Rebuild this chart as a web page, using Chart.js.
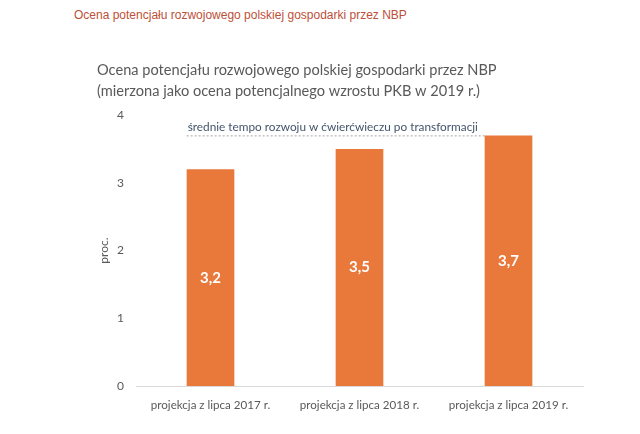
<!DOCTYPE html>
<html>
<head>
<meta charset="utf-8">
<script src="https://cdn.jsdelivr.net/npm/chart.js@4/dist/chart.umd.min.js"></script>
<style>
  html, body { margin: 0; padding: 0; background: #fff; }
  #wrap { position: relative; width: 640px; height: 434px; }
  #header {
    position: absolute; left: 74px; top: 8px;
    font-family: "Liberation Sans", Arial, sans-serif; font-size: 12px;
    color: #bd4f38;
  }
  canvas { position: absolute; left: 0; top: 0; }
</style>
</head>
<body>
<div id="wrap">
  <div id="header">Ocena potencjału rozwojowego polskiej gospodarki przez NBP</div>
  <canvas id="chart" width="640" height="434"></canvas>
</div>
<script>
const categories = ["projekcja z lipca 2017 r.", "projekcja z lipca 2018 r.", "projekcja z lipca 2019 r."];
const growth = [3.2, 3.5, 3.7];
const avgGrowth = 3.7;
const avgLabel = "średnie tempo rozwoju w ćwierćwieczu po transformacji";
const titleLines = [
  "Ocena potencjału rozwojowego polskiej gospodarki przez NBP",
  "(mierzona jako ocena potencjalnego wzrostu PKB w 2019 r.)"
];

const font = "Lato";

// dotted reference line + its caption, drawn under the bars
const avgLinePlugin = {
  id: "avgLine",
  beforeDatasetsDraw(chart) {
    const ctx = chart.ctx;
    const bars = chart.getDatasetMeta(0).data;
    const y = chart.scales.y.getPixelForValue(avgGrowth);
    const x0 = bars[0].x - bars[0].width / 2;
    const x1 = bars[2].x - bars[2].width / 2;
    ctx.save();
    ctx.strokeStyle = "#a6a6a6";
    ctx.lineWidth = 1;
    ctx.setLineDash([2, 2]);
    ctx.beginPath();
    ctx.moveTo(x0, y + 0.5);
    ctx.lineTo(x1, y + 0.5);
    ctx.stroke();
    ctx.setLineDash([]);
    ctx.fillStyle = "#44546a";
    ctx.font = "11.8px " + font;
    ctx.textAlign = "left";
    ctx.textBaseline = "bottom";
    ctx.fillText(avgLabel, x0 + 1, y - 2);
    ctx.restore();
  }
};

// values written inside the bars
const barLabelPlugin = {
  id: "barLabels",
  afterDatasetsDraw(chart) {
    const ctx = chart.ctx;
    const meta = chart.getDatasetMeta(0);
    ctx.save();
    ctx.fillStyle = "#ffffff";
    ctx.font = "bold 15px " + font;
    ctx.textAlign = "center";
    ctx.textBaseline = "middle";
    meta.data.forEach((bar, i) => {
      const txt = growth[i].toFixed(1).replace(".", ",");
      ctx.fillText(txt, bar.x, (bar.y + bar.base) / 2);
    });
    ctx.restore();
  }
};

new Chart(document.getElementById("chart"), {
  type: "bar",
  plugins: [avgLinePlugin, barLabelPlugin],
  data: {
    labels: categories,
    datasets: [{
      data: growth,
      backgroundColor: "#e8793b",
      barPercentage: 0.32,
      categoryPercentage: 1
    }]
  },
  options: {
    responsive: false,
    animation: false,
    layout: { padding: { left: 97, right: 57, top: 60, bottom: 10 } },
    plugins: {
      legend: { display: false },
      tooltip: { enabled: false },
      title: {
        display: true,
        text: titleLines,
        align: "start",
        color: "#595959",
        font: { family: font, size: 14.6, weight: "normal", lineHeight: 1.44 },
        padding: { top: 0, bottom: 13 }
      }
    },
    scales: {
      x: {
        grid: { display: false, drawTicks: false },
        border: { display: true, color: "#d9d9d9", width: 1 },
        ticks: { color: "#595959", font: { family: font, size: 11.6 }, padding: 12 }
      },
      y: {
        min: 0, max: 4,
        grid: { display: false, drawTicks: false },
        border: { display: false },
        ticks: { stepSize: 1, color: "#595959", font: { family: font, size: 12 }, padding: 12 },
        title: {
          display: true, text: "proc.", color: "#595959",
          font: { family: font, size: 12 }, padding: { top: 0, bottom: 4 }
        },
        afterFit(scale) { scale.width = 39; }
      }
    }
  }
});
</script>
</body>
</html>
